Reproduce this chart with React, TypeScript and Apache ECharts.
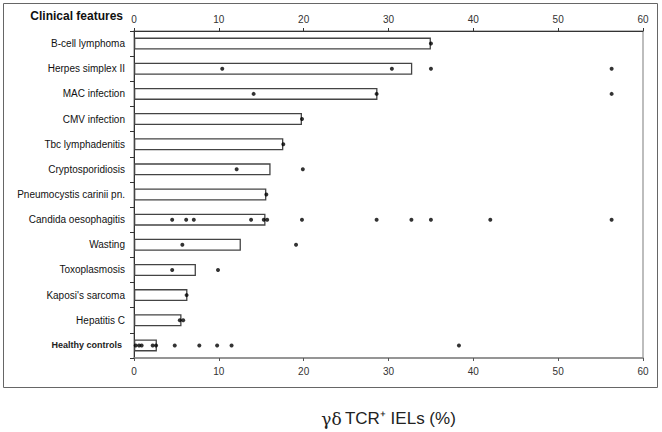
import React, { useEffect, useRef } from "react";
import * as echarts from "echarts";

const categories = [
  "B-cell lymphoma",
  "Herpes simplex II",
  "MAC infection",
  "CMV infection",
  "Tbc lymphadenitis",
  "Cryptosporidiosis",
  "Pneumocystis carinii pn.",
  "Candida oesophagitis",
  "Wasting",
  "Toxoplasmosis",
  "Kaposi's sarcoma",
  "Hepatitis C",
  "Healthy controls",
];

const medians = [35.0, 32.8, 28.7, 19.8, 17.6, 16.1, 15.6, 15.5, 12.6, 7.3, 6.3, 5.6, 2.7];

const bCell = [35.0];
const herpes = [10.4, 30.4, 35.0, 56.3];
const mac = [14.1, 28.6, 56.3];
const cmv = [19.8];
const tbc = [17.6];
const crypto = [12.1, 19.9];
const pneumo = [15.6];
const candida = [4.5, 6.15, 7.05, 13.8, 15.3, 15.7, 19.8, 28.6, 32.7, 35.0, 42.0, 56.3];
const wasting = [5.7, 19.1];
const toxo = [4.5, 9.9];
const kaposi = [6.2];
const hepC = [5.4, 5.8];
const healthy = [0.2, 0.6, 0.9, 2.2, 2.6, 4.8, 7.7, 9.8, 11.5, 38.3];

const individual = [bCell, herpes, mac, cmv, tbc, crypto, pneumo, candida, wasting, toxo, kaposi, hepC, healthy];

const xTicks = { min: 0, max: 60, interval: 10 };

export default function App() {
  const ref = useRef<HTMLDivElement>(null);
  useEffect(() => {
    if (!ref.current) return;
    const chart = echarts.init(ref.current, null, { renderer: "svg" });
    const points: [number, string][] = [];
    individual.forEach((vals, i) => vals.forEach((v) => points.push([v, categories[i]])));
    const font = "Liberation Sans, Arial, sans-serif";
    chart.setOption({
      animation: false,
      backgroundColor: "#fff",
      textStyle: { fontFamily: font },
      grid: {
        left: 134,
        right: 19,
        top: 31,
        bottom: 73,
        show: true,
        borderColor: "#a8a8a8",
        borderWidth: 1.5,
        backgroundColor: "transparent",
      },
      xAxis: [
        {
          type: "value",
          position: "bottom",
          ...xTicks,
          axisLine: { show: true, lineStyle: { color: "#888", width: 1.5 } },
          axisTick: { show: true, inside: false, length: 3, lineStyle: { color: "#555" } },
          axisLabel: { color: "#333", fontSize: 10, margin: 8, fontFamily: font },
          splitLine: { show: false },
          name: "{g|γδ} {t|TCR⁺ IELs (%)}",
          nameLocation: "middle",
          nameGap: 52,
          nameTextStyle: {
            rich: {
              g: { fontFamily: "DejaVu Serif, Liberation Serif, serif", fontSize: 17, color: "#222" },
              t: { fontFamily: font, fontSize: 17, color: "#222" },
            },
          },
        },
        {
          type: "value",
          position: "top",
          ...xTicks,
          axisLine: { show: true, lineStyle: { color: "#333", width: 1 } },
          axisTick: { show: true, inside: false, length: 3, lineStyle: { color: "#333" } },
          axisLabel: { color: "#333", fontSize: 10, margin: 7, fontFamily: font },
          splitLine: { show: false },
        },
      ],
      yAxis: {
        type: "category",
        data: categories,
        inverse: true,
        axisLine: { show: true, lineStyle: { color: "#333", width: 1 } },
        axisTick: { show: true, inside: false, length: 4, lineStyle: { color: "#333" } },
        axisLabel: {
          margin: 9,
          color: "#111",
          fontSize: 10,
          fontFamily: font,
          formatter: (v: string) => (v === "Healthy controls" ? "{h|" + v + "}" : v),
          rich: { h: { fontSize: 9, fontWeight: "bold", color: "#222", fontFamily: font, padding: [0, 3, 0, 0] } },
        },
      },
      graphic: [
        {
          type: "rect",
          shape: { x: 3.5, y: 3.5, width: 654, height: 384 },
          style: { fill: "none", stroke: "#666", lineWidth: 1 },
          silent: true,
        },
        {
          type: "text",
          x: 123,
          y: 16,
          style: {
            text: "Clinical features",
            fontFamily: font,
            fontWeight: "bold",
            fontSize: 12,
            fill: "#111",
            align: "right",
            verticalAlign: "middle",
          },
          silent: true,
        },
      ],
      series: [
        {
          type: "bar",
          data: medians,
          barWidth: 12,
          itemStyle: { color: "#fff", borderColor: "#444", borderWidth: 1.3 },
          z: 2,
        },
        {
          type: "scatter",
          data: points,
          symbol: "circle",
          symbolSize: 4,
          itemStyle: { color: "#000" },
          z: 3,
        },
      ],
    });
    return () => chart.dispose();
  }, []);
  return <div ref={ref} style={{ width: 662, height: 432, position: "absolute", left: 0, top: 0 }} />;
}
